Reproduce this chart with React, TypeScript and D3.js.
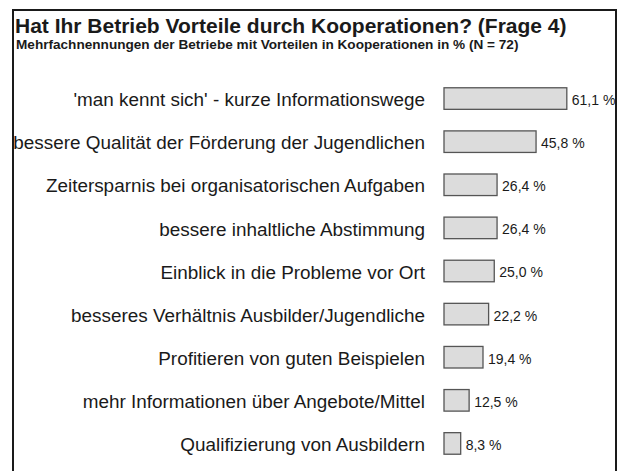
import * as d3 from "d3"
import { useEffect, useRef } from "react"

const categories = [
    "'man kennt sich' - kurze Informationswege",
    "bessere Qualität der Förderung der Jugendlichen",
    "Zeitersparnis bei organisatorischen Aufgaben",
    "bessere inhaltliche Abstimmung",
    "Einblick in die Probleme vor Ort",
    "besseres Verhältnis Ausbilder/Jugendliche",
    "Profitieren von guten Beispielen",
    "mehr Informationen über Angebote/Mittel",
    "Qualifizierung von Ausbildern",
]
const values = [61.1, 45.8, 26.4, 26.4, 25.0, 22.2, 19.4, 12.5, 8.3]

const title = "Hat Ihr Betrieb Vorteile durch Kooperationen? (Frage 4)"
const subtitle = "Mehrfachnennungen der Betriebe mit Vorteilen in Kooperationen in % (N = 72)"

const App = () => {
    const ref = useRef<SVGSVGElement>(null)

    useEffect(() => {
        const width = 621
        const height = 471
        const font = "'Liberation Sans', Arial, sans-serif"
        const svg = d3.select(ref.current)
        svg.selectAll("*").remove()

        svg.append("rect")
            .attr("width", width)
            .attr("height", height)
            .attr("fill", "#fff")

        const x = d3.scaleLinear().domain([0, 100]).range([444, 645])
        const y = d3.scaleBand<string>()
            .domain(categories)
            .range([77, 465])
            .paddingInner(0.5)
            .paddingOuter(0.25)

        const fmt = (v: number) => v.toFixed(1).replace(".", ",") + " %"

        const rows = svg.append("g")
            .selectAll("g")
            .data(categories.map((c, i) => ({ c, v: values[i] })))
            .join("g")

        rows.append("text")
            .attr("x", 425)
            .attr("y", d => (y(d.c) as number) + y.bandwidth() / 2 + 1)
            .attr("dy", "0.35em")
            .attr("text-anchor", "end")
            .attr("font-family", font)
            .attr("font-size", 18.9)
            .attr("fill", "#1a1a1a")
            .text(d => d.c)

        rows.append("rect")
            .attr("x", x(0))
            .attr("y", d => y(d.c) as number)
            .attr("width", d => x(d.v) - x(0))
            .attr("height", y.bandwidth())
            .attr("fill", "#dcdcdc")
            .attr("stroke", "#555")
            .attr("stroke-width", 1.3)

        rows.append("text")
            .attr("x", d => x(d.v) + 5)
            .attr("y", d => (y(d.c) as number) + y.bandwidth() / 2 + 1.5)
            .attr("dy", "0.35em")
            .attr("font-family", font)
            .attr("font-size", 14)
            .attr("fill", "#1a1a1a")
            .text(d => fmt(d.v))

        svg.append("text")
            .attr("x", 15)
            .attr("y", 33)
            .attr("font-family", font)
            .attr("font-weight", "bold")
            .attr("font-size", 21)
            .attr("fill", "#1a1a1a")
            .text(title)

        svg.append("text")
            .attr("x", 16)
            .attr("y", 49)
            .attr("font-family", font)
            .attr("font-weight", "bold")
            .attr("font-size", 13.6)
            .attr("fill", "#1a1a1a")
            .text(subtitle)

        // frame, open at the bottom edge
        svg.append("path")
            .attr("d", `M13,${height + 2}V10H616V${height + 2}`)
            .attr("fill", "none")
            .attr("stroke", "#1a1a1a")
            .attr("stroke-width", 2)
    }, [])

    return (
        <svg ref={ref} width={621} height={471} style={{ position: "absolute", left: 0, top: 0 }}></svg>
    )
}

export default App
